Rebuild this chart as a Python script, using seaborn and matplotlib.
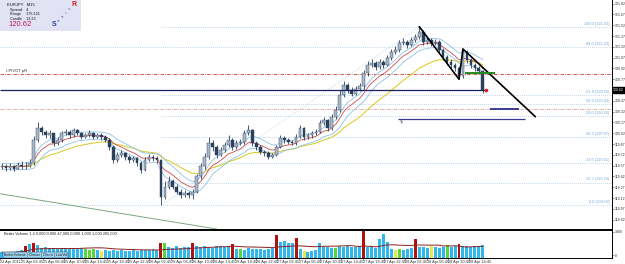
import numpy as np
import pandas as pd
import matplotlib
matplotlib.use("Agg")
import matplotlib.pyplot as plt
from matplotlib.patches import Rectangle
import seaborn as sns

# Chart data (EURJPY M15)
SYMBOL = "EURJPY"
TIMEFRAME = "M15"
BID = 120.62
FIRST_OPEN = 119.55

CLOSE = [119.56, 119.54, 119.56, 119.53, 119.58, 119.56, 119.57, 119.60, 119.93, 120.09,
         120.04, 119.99, 120.02, 119.88, 119.93, 120.02, 120.04, 119.99, 120.06, 120.02,
         119.97, 119.99, 120.02, 119.97, 119.99, 119.97, 119.93, 119.83, 119.65, 119.72,
         119.74, 119.69, 119.65, 119.67, 119.60, 119.51, 119.65, 119.69, 119.67, 119.65,
         119.14, 119.28, 119.35, 119.28, 119.21, 119.16, 119.19, 119.16, 119.21, 119.42,
         119.56, 119.69, 119.88, 119.83, 119.72, 119.79, 119.86, 119.93, 119.83, 119.88,
         119.90, 120.02, 120.06, 119.88, 119.83, 119.76, 119.74, 119.69, 119.72, 119.83,
         119.95, 119.93, 119.90, 119.88, 119.97, 120.09, 119.97, 119.99, 120.02, 120.04,
         120.16, 120.20, 120.09, 120.25, 120.34, 120.55, 120.69, 120.62, 120.57, 120.64,
         120.67, 120.85, 120.97, 120.99, 120.94, 121.01, 120.97, 121.06, 121.15, 121.18,
         121.27, 121.29, 121.25, 121.31, 121.36, 121.43, 121.29, 121.31, 121.27, 121.29,
         121.18, 121.08, 121.01, 120.97, 120.92, 120.81, 121.15, 121.04, 120.97, 120.92,
         120.88, 120.62]
HIGH = [119.60, 119.59, 119.60, 119.58, 119.62, 119.63, 119.62, 119.66, 119.98, 120.17,
        120.12, 120.06, 120.06, 120.03, 119.97, 120.05, 120.08, 120.06, 120.09, 120.08,
        120.04, 120.03, 120.06, 120.04, 120.03, 120.02, 119.99, 119.95, 119.85, 119.76,
        119.79, 119.76, 119.72, 119.71, 119.69, 119.63, 119.69, 119.73, 119.72, 119.70,
        119.66, 119.36, 119.42, 119.38, 119.31, 119.24, 119.23, 119.22, 119.25, 119.46,
        119.61, 119.74, 119.97, 119.92, 119.86, 119.83, 119.90, 119.99, 119.96, 119.92,
        119.94, 120.06, 120.14, 120.08, 119.91, 119.86, 119.79, 119.77, 119.75, 119.86,
        120.00, 119.98, 119.95, 119.93, 120.01, 120.14, 120.11, 120.03, 120.05, 120.08,
        120.20, 120.25, 120.22, 120.29, 120.40, 120.62, 120.74, 120.72, 120.66, 120.68,
        120.72, 120.90, 121.02, 121.05, 121.02, 121.05, 121.04, 121.10, 121.19, 121.23,
        121.31, 121.34, 121.32, 121.35, 121.40, 121.50, 121.45, 121.35, 121.34, 121.33,
        121.31, 121.21, 121.10, 121.05, 121.00, 120.95, 121.19, 121.17, 121.07, 121.00,
        120.95, 120.90]
LOW = [119.52, 119.50, 119.51, 119.49, 119.52, 119.53, 119.52, 119.55, 119.58, 119.90,
       119.99, 119.95, 119.96, 119.84, 119.85, 119.90, 119.99, 119.95, 119.97, 119.99,
       119.94, 119.95, 119.97, 119.94, 119.95, 119.93, 119.90, 119.79, 119.60, 119.62,
       119.69, 119.65, 119.61, 119.62, 119.56, 119.47, 119.49, 119.63, 119.64, 119.61,
       119.02, 119.10, 119.25, 119.24, 119.17, 119.12, 119.13, 119.12, 119.10, 119.19,
       119.39, 119.53, 119.66, 119.78, 119.68, 119.70, 119.76, 119.83, 119.79, 119.80,
       119.85, 119.87, 119.99, 119.84, 119.79, 119.73, 119.71, 119.66, 119.67, 119.70,
       119.81, 119.89, 119.87, 119.85, 119.86, 119.95, 119.93, 119.94, 119.96, 119.99,
       120.02, 120.13, 120.05, 120.07, 120.22, 120.31, 120.52, 120.58, 120.53, 120.55,
       120.61, 120.64, 120.82, 120.94, 120.90, 120.91, 120.93, 120.95, 121.03, 121.12,
       121.15, 121.24, 121.21, 121.23, 121.29, 121.33, 121.25, 121.26, 121.23, 121.24,
       121.14, 121.04, 120.97, 120.93, 120.88, 120.77, 120.79, 121.00, 120.93, 120.88,
       120.84, 120.58]
VOLUME = [300, 280, 320, 300, 350, 400, 600, 750, 780, 650,
          520, 560, 500, 540, 480, 520, 500, 470, 510, 490, 530,
          450, 420, 460, 400, 380,
          400, 380, 420, 360, 400, 380, 350, 400, 370,
          420, 440, 400, 460, 430,
          800, 760,
          560, 540, 600, 520, 580, 550,
          800,
          600, 560, 620, 580, 540, 600, 640, 560, 580,
          700,
          460, 480, 440, 500, 470, 450, 480, 430, 460, 500,
          1200,
          850, 900, 800, 760,
          1050,
          450, 350, 320, 380, 420,
          800,
          560, 580, 540, 520, 600, 560,
          620, 580, 560, 600,
          1400,
          560, 600, 540,
          1000, 1250, 850,
          450, 420, 480, 430, 460, 500,
          980,
          580, 560, 540, 600, 560, 520, 580,
          680,
          560, 600,
          700,
          600, 620, 580, 640, 600, 650]
RED_BARS = [6, 8, 40, 48, 58, 69, 74, 91, 104, 115]
GREEN_BARS = [21, 22, 23, 41, 60, 84, 100, 112]
YELLOW_BARS = [25, 76, 99, 108]

TIME_LABELS = ["22 Apr 2011", "25 Apr 02:45", "25 Apr 06:45", "25 Apr 10:45", "25 Apr 14:45",
               "25 Apr 18:45", "25 Apr 22:45", "26 Apr 02:45", "26 Apr 06:45", "26 Apr 10:45",
               "26 Apr 14:45", "26 Apr 18:45", "26 Apr 22:45", "27 Apr 02:45", "27 Apr 06:45",
               "27 Apr 10:45", "27 Apr 14:45", "27 Apr 18:45", "27 Apr 22:45", "28 Apr 02:45",
               "28 Apr 06:45", "28 Apr 10:45", "28 Apr 14:45"]

FIB_RATIOS = [1.0, 0.886, 0.618, 0.568, 0.5, 0.382, 0.236, 0.127, 0.0]
FULL_WIDTH_FIB = [0.886, 0.0]
PIVOT_LEVEL = 120.84
S1_LEVEL = 120.36
GREEN_LEVEL = 120.85
GREEN_SPAN = [116.5, 124.0]
NAVY_SPAN = [122.9, 130.2]
TP_LEVEL = 120.22
TP_SPAN = [99.7, 131.7]
ZIGZAG_T = [105, 115, 116, 134.2]
ZIGZAG_P = [121.50, 120.77, 121.19, 120.25]
OLD_TREND_T = [-0.5, 54.0]
OLD_TREND_P = [119.18, 118.69]

W, H = 625, 264


def fx(x):
    return x / W


def fy(y):
    return 1 - y / H


sns.set_theme(style="white")
plt.rcParams['font.family'] = ['Liberation Sans', 'DejaVu Sans']

df = pd.DataFrame({"close": CLOSE, "high": HIGH, "low": LOW, "volume": VOLUME})
df["open"] = df["close"].shift(1).fillna(FIRST_OPEN)
df["ema_high"] = df["high"].ewm(span=9, adjust=False).mean()
df["ema_low"] = df["low"].ewm(span=9, adjust=False).mean()
df["ema_close"] = df["close"].ewm(span=9, adjust=False).mean()
df["ema_slow"] = df["close"].ewm(span=24, adjust=False).mean()
df["vol_avg"] = df["volume"].rolling(20, min_periods=1).mean()
x = np.arange(len(df))
n = len(df)

fig = plt.figure(figsize=(W / 100, H / 100), dpi=100)
ax = fig.add_axes([0, fy(229), fx(612), 229 / H])
vax = fig.add_axes([0, fy(258), fx(612), 28 / H])

XMAX = 153.5
ax.set_xlim(-0.5, XMAX)
ax.set_ylim(118.69, 121.87)

# fibonacci retracement from swing low to swing high
lo_i = int(df["low"].idxmin())
hi_i = int(df["high"].idxmax())
lo_p, hi_p = df["low"][lo_i], df["high"][hi_i]
for r in FIB_RATIOS:
    p = lo_p + r * (hi_p - lo_p)
    start = -0.5 if r in FULL_WIDTH_FIB else lo_i
    ax.hlines(p, start, XMAX, color="#a7c9e6", lw=0.6, linestyles=(0, (1, 1.5)), zorder=1)
    ax.text(XMAX - 0.6, p + 0.015, f"{r * 100:.1f} ({p:.2f})", fontsize=2.8, color="#6fa8d8",
            ha="right", va="bottom")
ax.plot([lo_i, hi_i], [lo_p, hi_p], color="#a7c9e6", lw=0.5, ls=(0, (1, 1.5)), zorder=1)

# pivot lines
ax.axhline(PIVOT_LEVEL, color="#c0392b", lw=0.6, ls=(0, (4, 1.5, 1, 1.5)), zorder=1)
ax.text(1, PIVOT_LEVEL + 0.02, "I-PIVOT pR", fontsize=3, color="#333333", va="bottom")
ax.axhline(S1_LEVEL, color="#e6a08a", lw=0.6, ls=(0, (4, 1.5, 1, 1.5)), zorder=1)
ax.plot(OLD_TREND_T, OLD_TREND_P, color="#7fa67f", lw=0.7, zorder=1)

# moving averages
sns.lineplot(x=x, y=df["ema_slow"], ax=ax, color="#d9c81c", lw=0.7, legend=False, zorder=2)
sns.lineplot(x=x, y=df["ema_high"], ax=ax, color="#8fc1e6", lw=0.6, legend=False, zorder=2)
sns.lineplot(x=x, y=df["ema_low"], ax=ax, color="#8fc1e6", lw=0.6, legend=False, zorder=2)
sns.lineplot(x=x, y=df["ema_close"], ax=ax, color="#c84c4c", lw=0.6, legend=False, zorder=2)

# candles
bull = df["close"] >= df["open"]
ax.vlines(x, df["low"], df["high"], color="#2b405a", lw=0.6, zorder=3)
ax.bar(x, (df["close"] - df["open"]).abs().clip(lower=0.006), bottom=np.minimum(df["open"], df["close"]),
       width=0.7, color=np.where(bull, "#a9b8ca", "#2a4260"), edgecolor="#2b405a", lw=0.3, zorder=4)

# current price line
ax.hlines(BID, -0.5, n - 0.2, color="#1c1f5e", lw=0.9, zorder=5)
ax.plot([n - 0.2], [BID], "o", color="#d62020", ms=1.6, zorder=6)

# drawn objects
ax.plot(ZIGZAG_T, ZIGZAG_P, color="black", lw=1.2, zorder=6)
ax.hlines(GREEN_LEVEL, GREEN_SPAN[0], GREEN_SPAN[1], color="#1e8a1e", lw=1.4, zorder=6)
ax.hlines(S1_LEVEL, NAVY_SPAN[0], NAVY_SPAN[1], color="#1c1f8a", lw=1.2, zorder=6)
ax.hlines(TP_LEVEL, TP_SPAN[0], TP_SPAN[1], color="#3c3c96", lw=0.9, zorder=6)
ax.text(TP_SPAN[0] + 0.5, TP_LEVEL - 0.02, "Tp", fontsize=2.6, color="#333366", va="top")

# price axis
yt = [t for t in np.arange(118.82, 121.84, 0.15) if abs(t - BID) > 0.05]
ax.yaxis.tick_right()
ax.set_yticks(yt)
ax.yaxis.set_major_formatter(matplotlib.ticker.FormatStrFormatter("%.2f"))
ax.tick_params(axis="y", labelsize=2.5, length=1.2, width=0.4, pad=0.6, colors="#333333", right=True)
ax.set_xticks([])
ax.set_ylabel("")
for s in ["top", "left"]:
    ax.spines[s].set_visible(False)
for s in ["right", "bottom"]:
    ax.spines[s].set_color("black")
    ax.spines[s].set_linewidth(0.7)
ax.annotate(f"{BID:.2f}", xy=(1.002, BID), xycoords=("axes fraction", "data"), fontsize=2.5,
            color="white", va="center", ha="left",
            bbox=dict(boxstyle="square,pad=0.15", fc="black", ec="black"), annotation_clip=False)

# volume panel
colors = ["#30b8ec"] * n
for i in RED_BARS:
    colors[i] = "#b01212"
for i in GREEN_BARS:
    colors[i] = "#58d838"
for i in YELLOW_BARS:
    colors[i] = "#e8e84a"
vax.bar(x, df["volume"], width=0.75, color=colors, lw=0, zorder=2)
sns.lineplot(x=x, y=df["vol_avg"], ax=vax, color="#8b2020", lw=0.7, legend=False, zorder=3)
vax.set_xlim(-0.5, XMAX)
vax.set_ylim(0, 1450)
vax.yaxis.tick_right()
vax.set_yticks([150, 1350])
vax.set_yticklabels(["0", "1400"])
vax.tick_params(axis="y", labelsize=2.5, length=1.2, width=0.4, pad=0.6, colors="#333333", right=True)
vax.set_ylabel("")
vax.set_xticks(-0.5 + np.arange(len(TIME_LABELS)) * 5.37)
vax.set_xticklabels(TIME_LABELS, ha="left")
vax.tick_params(axis="x", labelsize=2.8, length=1.2, width=0.4, pad=0.5, colors="#333333", bottom=True)
vax.spines["left"].set_visible(False)
for s in ["right", "bottom", "top"]:
    vax.spines[s].set_color("black")
    vax.spines[s].set_linewidth(0.7)
vax.text(0.5, 1380, "Better Volume 1.4 0,000 0,000 47,000 0,000 1,000 1,000 205,000",
         fontsize=2.8, color="#222222", va="top")
vax.text(0.5, 60, "BetterVolume | Climax | Churn | LowVol", fontsize=2.6, color="#222222",
         va="bottom", bbox=dict(boxstyle="square,pad=0.2", fc="#9fd3ee", ec="#1c3c6c", lw=0.3))

# info panel (top left)
fig.add_artist(Rectangle((0, fy(31)), fx(81), 31 / H, transform=fig.transFigure,
                         fc="#e1e3f5", ec="none", zorder=10))
fig.text(fx(7), fy(5), f"{SYMBOL}   {TIMEFRAME}", fontsize=3, color="#111111", va="center", zorder=11)
fig.text(fx(10), fy(9.5), "Spread    4", fontsize=2.7, color="#111111", va="center", zorder=11)
fig.text(fx(10), fy(14), "Range     176.121", fontsize=2.7, color="#111111", va="center", zorder=11)
fig.text(fx(10), fy(18.5), "Candle    12:23", fontsize=2.7, color="#111111", va="center", zorder=11)
fig.text(fx(8), fy(25), f"{BID:.2f}", fontsize=5.5, color="#c2185b", va="center", zorder=11)
fig.text(fx(52), fy(25), "S", fontsize=5, color="#2b3f9e", weight="bold", va="center", zorder=11)
for ch, px, py in [("o", 57, 20.5), ("n", 61, 16.5), ("i", 64.5, 12.5), ("c", 68, 8.5)]:
    fig.text(fx(px), fy(py), ch, fontsize=3, color="#2b3f6e", va="center", rotation=45, zorder=11)
fig.text(fx(71), fy(4.5), "R", fontsize=5, color="#d01c1c", weight="bold", va="center", zorder=11)

fig.savefig("out.png", dpi=100, facecolor="white")
